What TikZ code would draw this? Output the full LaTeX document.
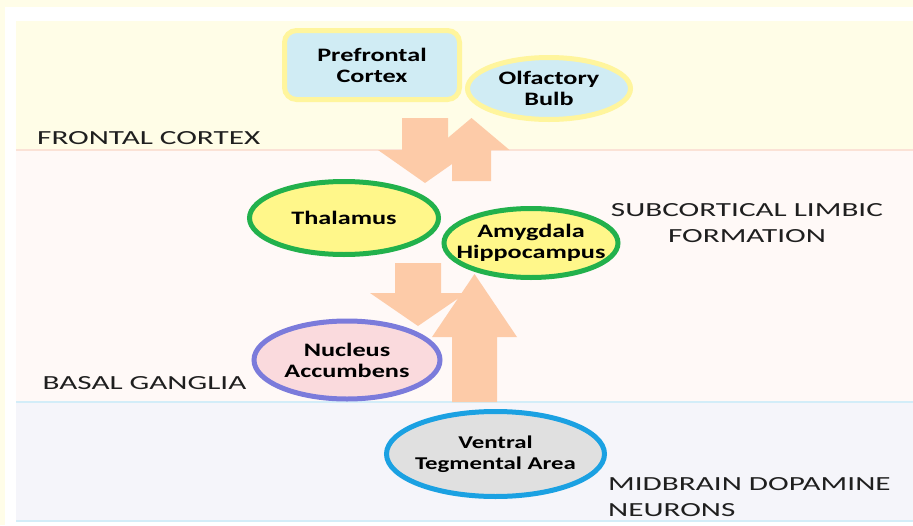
\documentclass[tikz,border=0pt]{standalone}
\usepackage{fontspec}
\usepackage{tikz}
\usetikzlibrary{shapes,calc,positioning}
\newfontfamily\boxfont[FakeStretch=1.38]{Carlito}
\newfontfamily\zonefont[FakeStretch=1.56]{Carlito}
\definecolor{cream}{HTML}{FFFDE8}
\definecolor{frontalbg}{HTML}{FFFDE7}
\definecolor{limbicbg}{HTML}{FFF9F7}
\definecolor{midbrainbg}{HTML}{F5F5FA}
\definecolor{peach}{HTML}{FDCBA8}
\definecolor{peachline}{HTML}{FBE2D6}
\definecolor{iceline}{HTML}{D3EDF8}
\definecolor{paleyellow}{HTML}{FFF59D}
\definecolor{skyfill}{HTML}{D0ECF4}
\definecolor{limbicgreen}{HTML}{22B14C}
\definecolor{lemon}{HTML}{FFF78A}
\definecolor{pinkfill}{HTML}{FADADD}
\definecolor{accedge}{HTML}{7B7BDB}
\definecolor{vtaedge}{HTML}{1BA1E2}
\definecolor{vtafill}{HTML}{E0E0E0}
\tikzstyle{region} = [draw=paleyellow, line width=5pt, fill=skyfill, text=black, align=center, inner sep=-20pt, font=\boxfont\bfseries\fontsize{19}{21}\selectfont]
\tikzstyle{cortexbox} = [region, rectangle, rounded corners=12pt, minimum width=175pt, minimum height=69pt]
\tikzstyle{bulb} = [region, ellipse]
\tikzstyle{limbic} = [region, ellipse, draw=limbicgreen, fill=lemon]
\tikzstyle{ganglia} = [region, ellipse, draw=accedge, fill=pinkfill]
\tikzstyle{vta} = [region, ellipse, draw=vtaedge, fill=vtafill, font=\boxfont\bfseries\fontsize{18}{21}\selectfont]
\tikzstyle{zone} = [inner sep=0pt, text=black!88, font=\zonefont\fontsize{20}{26}\selectfont]
\tikzstyle{fatarrow} = [fill=peach]
% from, to, shaft half width, head half width, head length
\newcommand{\fatarrow}[5]{%
  \coordinate (fa-base) at ($(#2)!#5pt!(#1)$);
  \fill[fatarrow] ($(#1)+(-#3,0)$) -- ($(fa-base)+(-#3,0)$) -- ($(fa-base)+(-#4,0)$) -- (#2)
    -- ($(fa-base)+(#4,0)$) -- ($(fa-base)+(#3,0)$) -- ($(#1)+(#3,0)$) -- cycle;}

\begin{document}
\begin{tikzpicture}[x=1pt, y=-1pt]

% bands =============================
\fill[cream] (0,0) rectangle (913,525);
\useasboundingbox (0,0) rectangle (913,525);
\fill[white] (5,7) rectangle (913,525);
\fill[frontalbg] (16,21) rectangle (913,150);
\fill[limbicbg] (16,150) rectangle (913,402);
\fill[midbrainbg] (16,402) rectangle (913,521);
\draw[peachline, line width=1.5pt] (16,150) -- (913,150);
\draw[iceline, line width=1.5pt] (16,402) -- (913,402);
\draw[iceline, line width=1.5pt] (16,521) -- (913,521);

\node[zone, anchor=base west] (frontal) at (37,144) {FRONTAL CORTEX};
\node[zone, anchor=north, align=center] (subcortical) at (747,203) {SUBCORTICAL LIMBIC\\FORMATION};
\node[zone, anchor=base west] (basal) at (42.5,389) {BASAL GANGLIA};
\node[zone, anchor=north west, align=left] (midbrain) at (608,477) {MIDBRAIN DOPAMINE\\NEURONS};

% arrows =============================
\coordinate (pfc-out) at (425,118);
\coordinate (thal-in) at (425,183);
\coordinate (limbic-up) at (471.5,181);
\coordinate (bulb-in) at (471.5,118);
\coordinate (thal-out) at (418,263);
\coordinate (nacc-in) at (418,326);
\coordinate (vta-out) at (474.5,402);
\coordinate (amy-in) at (474.5,274);

\fatarrow{pfc-out}{thal-in}{23}{47}{33}
\fatarrow{limbic-up}{bulb-in}{19.5}{38}{32}
\fatarrow{thal-out}{nacc-in}{23}{48}{33}
\fatarrow{vta-out}{amy-in}{22.5}{42.5}{63}

% regions =============================
\node[cortexbox] (pfc) at (372,65) {Prefrontal\\Cortex};
\node[bulb, minimum width=163pt, minimum height=62pt] (bulb) at (549,88.5) {Olfactory\\Bulb};
\node[limbic, minimum width=189pt, minimum height=73pt] (thalamus) at (344,218) {Thalamus};
\node[limbic, minimum width=174pt, minimum height=69pt] (amygdala) at (531,243) {Amygdala\\Hippocampus};
\node[ganglia, minimum width=186pt, minimum height=78pt] (nacc) at (347,360) {Nucleus\\Accumbens};
\node[vta, minimum width=218pt, minimum height=85pt] (vta) at (495.5,454) {Ventral\\Tegmental Area};

\end{tikzpicture}
\end{document}
